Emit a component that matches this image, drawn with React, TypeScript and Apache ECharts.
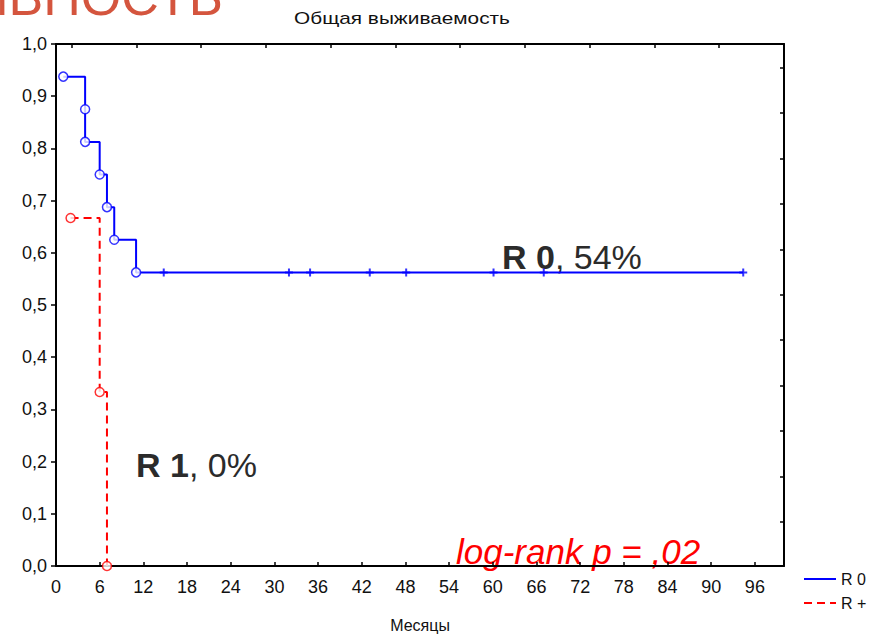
import React, { useEffect, useRef } from "react";
import * as echarts from "echarts";

// R 0 group: event times / survival after each event
const r0EventTimes = [1, 4, 4, 6, 7, 8, 11];
const r0EventSurv = [0.9375, 0.875, 0.8125, 0.75, 0.6875, 0.625, 0.5625];
const r0CensoredTimes = [14.8, 32, 34.9, 43.1, 48.1, 60.1, 67, 94.4];
// R + group
const rpEventTimes = [2, 6, 7];
const rpEventSurv = [0.6667, 0.3333, 0];

const seriesNames = ["R 0", "R +"];
const chartTitle = "Общая выживаемость";
const slideTitleFragment = "ИВНОСТЬ";
const xAxisName = "Месяцы";
const topFrameTicks = [0, 1, 2, 3, 4, 5, 6, 7, 8, 9, 10];
const rightFrameTicks = [0, 1, 2, 3, 4, 5, 6, 7, 8, 9, 10];

const FONT = "'Liberation Sans', Arial, sans-serif";
const BLUE = "#0000ff";
const RED = "#ff0000";

export default function App() {
  const ref = useRef<HTMLDivElement>(null);
  useEffect(() => {
    document.body.style.margin = "0";
    const chart = echarts.init(ref.current!, null, { renderer: "svg" });
    const lastSurv = r0EventSurv[r0EventSurv.length - 1];
    const r0Line: number[][] = r0EventTimes.map((t, i) => [t, r0EventSurv[i]]);
    const lastCens = r0CensoredTimes[r0CensoredTimes.length - 1];
    r0Line.push([lastCens, lastSurv]);
    const rpLine = rpEventTimes.map((t, i) => [t, rpEventSurv[i]]);
    const r0Events = r0EventTimes.map((t, i) => [t, r0EventSurv[i]]);
    const r0Cens = r0CensoredTimes.map((t) => [t, lastSurv]);
    const rpEvents = rpEventTimes.map((t, i) => [t, rpEventSurv[i]]);

    const axisLine = { show: true, onZero: false, lineStyle: { color: "#000", width: 2 } };
    const labelStyle = { color: "#111", fontSize: 18, fontFamily: FONT };

    chart.setOption({
      animation: false,
      grid: { left: 56, top: 44, right: 85, bottom: 72, containLabel: false },
      legend: {
        orient: "vertical",
        left: 798,
        top: 566,
        itemWidth: 32,
        itemHeight: 14,
        itemGap: 8,
        data: seriesNames,
        itemStyle: { opacity: 0 },
        textStyle: { fontSize: 16, fontFamily: FONT, color: "#111" },
      },
      xAxis: [
        {
          type: "value",
          min: 0,
          max: 100,
          interval: 6,
          position: "bottom",
          axisLine,
          splitLine: { show: false },
          axisTick: { show: true, inside: true, length: 4, lineStyle: { color: "#000", width: 1.5 } },
          axisLabel: { ...labelStyle, margin: 12, showMaxLabel: false },
          name: xAxisName,
          nameLocation: "middle",
          nameGap: 51,
          nameTextStyle: { fontSize: 16, fontFamily: FONT, color: "#111" },
        },
        {
          type: "value",
          min: -0.24,
          max: 11.0,
          position: "top",
          axisLine,
          splitLine: { show: false },
          axisTick: {
            show: true,
            inside: true,
            length: 4,
            customValues: topFrameTicks,
            lineStyle: { color: "#000", width: 1.5 },
          },
          axisLabel: { show: false },
        },
      ],
      yAxis: [
        {
          type: "value",
          min: 0,
          max: 1,
          interval: 0.1,
          axisLine,
          splitLine: { show: false },
          axisTick: { show: true, inside: false, length: 5, lineStyle: { color: "#000", width: 1.5 } },
          axisLabel: {
            ...labelStyle,
            margin: 9,
            formatter: (v: number) => v.toFixed(1).replace(".", ","),
          },
        },
        {
          type: "value",
          min: -0.974,
          max: 10.52,
          position: "right",
          axisLine,
          splitLine: { show: false },
          axisTick: {
            show: true,
            inside: true,
            length: 4,
            customValues: rightFrameTicks,
            lineStyle: { color: "#000", width: 1.5 },
          },
          axisLabel: { show: false },
        },
      ],
      series: [
        {
          name: seriesNames[0],
          type: "line",
          step: "end",
          data: r0Line,
          symbol: "none",
          showSymbol: false,
          lineStyle: { color: BLUE, width: 2 },
          itemStyle: { color: BLUE },
          z: 2,
        },
        {
          name: seriesNames[1],
          type: "line",
          step: "end",
          data: rpLine,
          symbol: "none",
          showSymbol: false,
          lineStyle: { color: RED, width: 2, type: [8, 5] },
          itemStyle: { color: RED },
          z: 2,
        },
        {
          name: "r0-events",
          type: "scatter",
          data: r0Events,
          symbol: "circle",
          symbolSize: 9,
          itemStyle: { color: "#fff", borderColor: BLUE, borderWidth: 1.5 },
          z: 3,
        },
        {
          name: "r0-censored",
          type: "scatter",
          data: r0Cens,
          symbol: "path://M4,0 L4,8 M0,4 L8,4",
          symbolSize: 8,
          itemStyle: { color: BLUE, borderColor: BLUE, borderWidth: 2 },
          z: 3,
        },
        {
          name: "rp-events",
          type: "scatter",
          data: rpEvents,
          symbol: "circle",
          symbolSize: 9,
          itemStyle: { color: "#fff", borderColor: RED, borderWidth: 1.5 },
          z: 3,
        },
      ],
      graphic: [
        {
          type: "text",
          x: 223,
          y: -3,
          style: {
            text: slideTitleFragment,
            font: `52px ${FONT}`,
            fill: "#d4553e",
            align: "right",
            verticalAlign: "middle",
          },
        },
        {
          type: "text",
          x: 402,
          y: 18,
          scaleX: 1.3,
          style: {
            text: chartTitle,
            font: `16px ${FONT}`,
            fill: "#111",
            align: "center",
            verticalAlign: "middle",
          },
        },
        {
          type: "text",
          x: 502,
          y: 257,
          style: {
            text: "{b|R 0}{n|, 54%}",
            rich: {
              b: { font: `bold 34px ${FONT}`, fill: "#2b2b2b" },
              n: { font: `34px ${FONT}`, fill: "#2b2b2b" },
            },
            verticalAlign: "middle",
          },
        },
        {
          type: "text",
          x: 136,
          y: 465,
          style: {
            text: "{b|R 1}{n|, 0%}",
            rich: {
              b: { font: `bold 34px ${FONT}`, fill: "#2b2b2b" },
              n: { font: `34px ${FONT}`, fill: "#2b2b2b" },
            },
            verticalAlign: "middle",
          },
        },
        {
          type: "text",
          x: 456,
          y: 551,
          style: {
            text: "log-rank p = ,02",
            font: `italic 35px ${FONT}`,
            fill: RED,
            verticalAlign: "middle",
          },
        },
      ],
    });
    return () => chart.dispose();
  }, []);
  return <div ref={ref} style={{ width: 869, height: 638 }} />;
}
